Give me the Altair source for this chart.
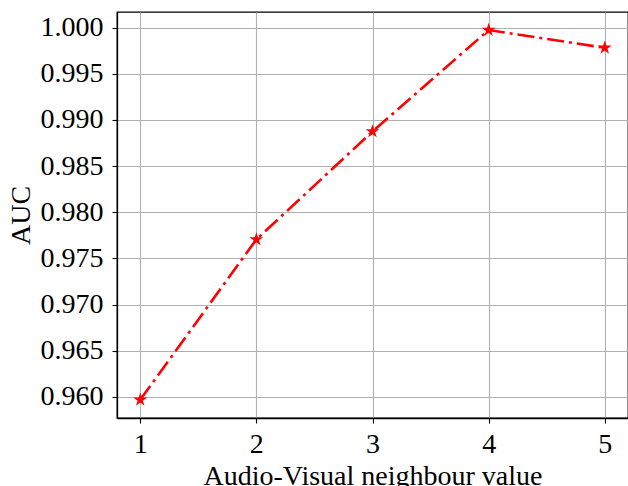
import altair as alt
import pandas as pd

neighbours = [1, 2, 3, 4, 5]
auc = [0.95967, 0.97705, 0.98875, 0.99974, 0.99782]

df = pd.DataFrame({"k": neighbours, "auc": auc})

STAR = ("M0,-1L0.2245,-0.309L0.9511,-0.309L0.3633,0.118L0.5878,0.809L0,0.382"
        "L-0.5878,0.809L-0.3633,0.118L-0.9511,-0.309L-0.2245,-0.309Z")

FONT = "Liberation Serif"

x = alt.X("k:Q", scale=alt.Scale(domain=[0.8, 5.2], nice=False, zero=False),
          axis=alt.Axis(values=neighbours, format="d", title="Audio-Visual neighbour value",
                        titlePadding=4))
y = alt.Y("auc:Q", scale=alt.Scale(domain=[0.9577, 1.0017], nice=False, zero=False),
          axis=alt.Axis(values=[0.960, 0.965, 0.970, 0.975, 0.980, 0.985, 0.990, 0.995, 1.000],
                        format=".3f", title="AUC", titlePadding=5))

line = alt.Chart(df).mark_line(color="#ff0000", strokeWidth=2.6, strokeDash=[17, 5, 3, 5]).encode(x=x, y=y)
pts = alt.Chart(df).mark_point(shape=STAR, filled=True, color="#ff0000", size=210, opacity=1).encode(x=x, y=y)

chart = (line + pts).properties(
    width=511, height=406,
    autosize=alt.AutoSizeParams(type="none"),
    padding={"left": 117, "top": 12, "right": 0, "bottom": 68},
).configure_view(stroke="black", strokeWidth=1.3).configure_axis(
    labelFont=FONT, titleFont=FONT, labelFontSize=28, titleFontSize=28,
    titleFontWeight="normal", labelColor="black", titleColor="black",
    domainColor="black", domainWidth=1.3, tickColor="black", tickSize=5, tickWidth=1.1,
    gridColor="#b0b0b0", gridWidth=1.1, labelPadding=7,
).configure_axisY(labelPadding=9)

chart.save("out.html", embed_options={"renderer": "svg", "actions": False})
